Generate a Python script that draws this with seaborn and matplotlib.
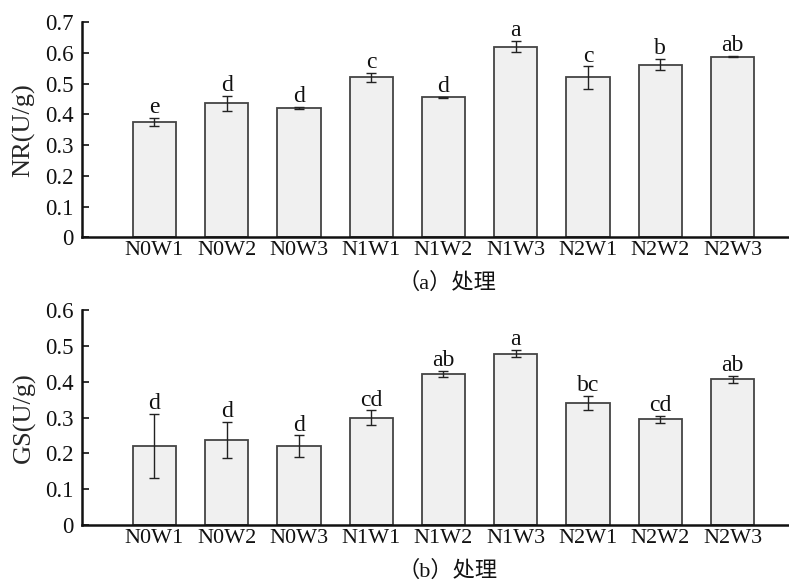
import matplotlib
matplotlib.use("Agg")
import matplotlib.pyplot as plt
import matplotlib.transforms as mtransforms
import seaborn as sns
import pandas as pd

categories = ["N0W1", "N0W2", "N0W3", "N1W1", "N1W2", "N1W3", "N2W1", "N2W2", "N2W3"]

nr_values = [0.375, 0.436, 0.420, 0.520, 0.455, 0.620, 0.520, 0.561, 0.587]
nr_errors = [0.012, 0.025, 0.004, 0.015, 0.002, 0.018, 0.036, 0.018, 0.002]
nr_letters = ["e", "d", "d", "c", "d", "a", "c", "b", "ab"]

gs_values = [0.220, 0.237, 0.220, 0.300, 0.422, 0.478, 0.341, 0.295, 0.407]
gs_errors = [0.090, 0.050, 0.030, 0.020, 0.008, 0.010, 0.020, 0.010, 0.010]
gs_letters = ["d", "d", "d", "cd", "ab", "a", "bc", "cd", "ab"]

nr_yticks = [0, 0.1, 0.2, 0.3, 0.4, 0.5, 0.6, 0.7]
gs_yticks = [0, 0.1, 0.2, 0.3, 0.4, 0.5, 0.6]

sns.set_theme(style="ticks")
plt.rcParams["font.family"] = ["Liberation Serif", "Noto Sans CJK SC"]
plt.rcParams["axes.unicode_minus"] = False

fig = plt.figure(figsize=(7.89, 5.83), dpi=100)
ax1 = fig.add_axes([0.104, 0.593, 0.896, 0.369])
ax2 = fig.add_axes([0.104, 0.0995, 0.896, 0.3685])


def draw(ax, values, errors, letters, yticks, ylabel, caption):
    df = pd.DataFrame({"cat": categories, "val": values})
    sns.barplot(data=df, x="cat", y="val", ax=ax, errorbar=None, width=0.6,
                color="#f0f0f0", saturation=1, edgecolor="#444444", linewidth=1.3)
    xs = list(range(len(categories)))
    ax.errorbar(xs, values, yerr=errors, fmt="none", ecolor="#222222",
                elinewidth=1.0, capsize=3.5, capthick=1.0)
    for x, v, e, t in zip(xs, values, errors, letters):
        ax.annotate(t, (x, v + e), xytext=(0, 3.5), textcoords="offset points",
                    ha="center", va="baseline", fontsize=17, color="#111111")
    ax.set_xlim(-1, 8.78)
    ax.set_ylim(0, yticks[-1])
    ax.set_yticks(yticks)
    ax.set_yticklabels(["0" if y == 0 else f"{y:.1f}" for y in yticks])
    ax.set_xlabel("")
    ax.set_ylabel(ylabel, fontsize=19, labelpad=7)
    ax.tick_params(axis="both", direction="in", length=5, width=1.2,
                   colors="#111111")
    ax.tick_params(axis="y", labelsize=16.5, pad=6)
    ax.tick_params(axis="x", length=4, labelsize=16, pad=3)
    for s in ["top", "right"]:
        ax.spines[s].set_visible(False)
    for s in ["left", "bottom"]:
        ax.spines[s].set_linewidth(1.8)
        ax.spines[s].set_color("#111111")
    trans = mtransforms.blended_transform_factory(ax.transData, ax.transAxes)
    ax.text(4.05, -0.215, caption, transform=trans, ha="center", va="center",
            fontsize=16, color="#111111")


draw(ax1, nr_values, nr_errors, nr_letters, nr_yticks, "NR(U/g)", "（a）处理")
draw(ax2, gs_values, gs_errors, gs_letters, gs_yticks, "GS(U/g)", "（b）处理")

fig.savefig("out.png", dpi=100)
